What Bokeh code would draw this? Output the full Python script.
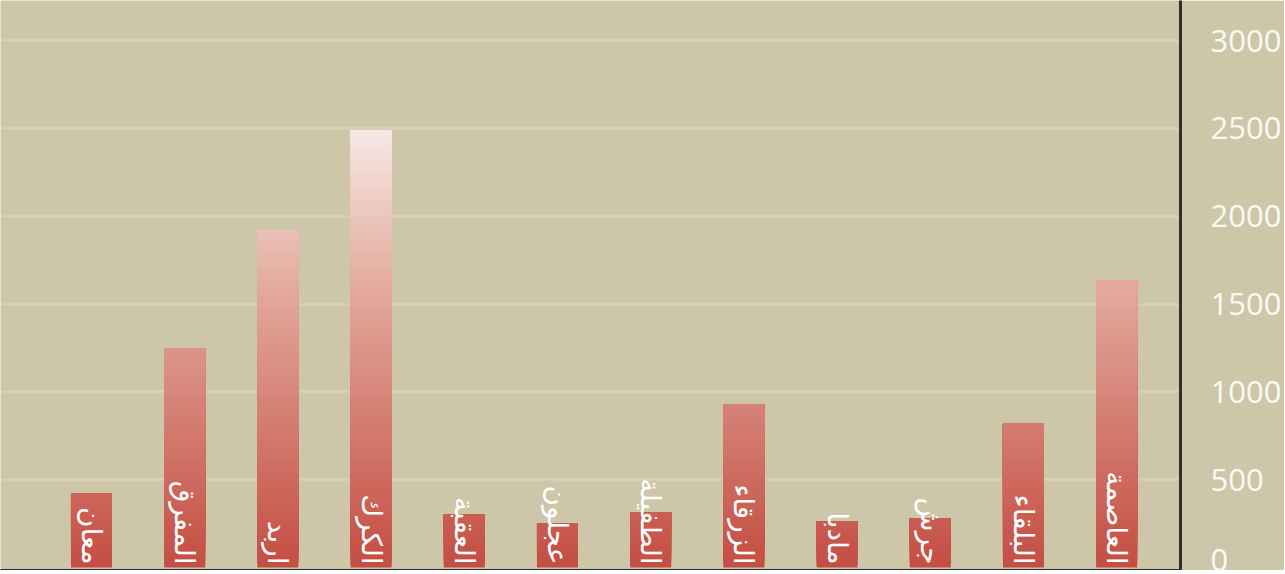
import math
from bokeh.plotting import figure
from bokeh.models import Range1d, FixedTicker
from bokeh.core.properties import value
from bokeh.embed import file_html
from bokeh.resources import INLINE

# ---- data ----
regions = ["معان", "المفرق", "اربد", "الكرك", "العقبة", "عجلون",
           "الطفيلة", "الزرقاء", "مادبا", "جرش", "البلقاء", "العاصمة"]
counts = [420, 1250, 1920, 2490, 300, 250, 313, 928, 262, 279, 820, 1633]
y_ticks = [0, 500, 1000, 1500, 2000, 2500, 3000]

BG = "#CDC6A9"
GRID = "#D7D1B9"

# gradient stops (value -> colour)
stops = [(0, (196, 77, 67)), (1600, (227, 170, 157)), (2500, (247, 233, 229))]


def grad(v):
    for (v0, c0), (v1, c1) in zip(stops[:-1], stops[1:]):
        if v <= v1:
            t = (v - v0) / (v1 - v0)
            return "#%02x%02x%02x" % tuple(int(round(a + (b - a) * t)) for a, b in zip(c0, c1))
    return "#%02x%02x%02x" % stops[-1][1]


p = figure(frame_width=1180, frame_height=570,
           x_range=Range1d(-0.9764, 11.685), y_range=Range1d(-17, 3228),
           output_backend="svg", toolbar_location=None,
           background_fill_color=BG, border_fill_color=BG,
           outline_line_color=None, y_axis_location="right",
           min_border_left=0, min_border_top=0, min_border_bottom=0, min_border_right=0)

# gradient bars as overlapping slices
step = 20
L, R, B, T, C = [], [], [], [], []
bw = 0.44
for i, v in enumerate(counts):
    b = 0
    while b < v:
        L.append(i - bw / 2)
        R.append(i + bw / 2)
        B.append(b)
        T.append(v)
        C.append(grad(b + step / 2))
        b += step
order = sorted(range(len(B)), key=lambda k: B[k])
p.quad(left=[L[k] for k in order], right=[R[k] for k in order],
       bottom=[B[k] for k in order], top=[T[k] for k in order],
       fill_color=[C[k] for k in order], line_color=None)

# labels
p.text(x=list(range(len(regions))), y=[0] * len(regions), text=regions,
       angle=-math.pi / 2, text_align="right", text_baseline="middle",
       text_color="white", text_font=value("DejaVu Sans"), text_font_size="28px",
       y_offset=-3)

# axes
p.xaxis.ticker = FixedTicker(ticks=[])
p.xaxis.axis_line_color = "#2e2e2e"
p.xaxis.axis_line_width = 3
p.xaxis.major_tick_line_color = None
p.xaxis.minor_tick_line_color = None
p.xaxis.major_label_standoff = 0

ya = p.yaxis[0]
ya.ticker = FixedTicker(ticks=y_ticks)
ya.axis_line_color = "#2e2e2e"
ya.axis_line_width = 3
ya.major_tick_line_color = None
ya.minor_tick_line_color = None
ya.major_label_text_color = "#FAFAF5"
ya.major_label_text_font = "Open Sans"
ya.major_label_text_font_size = "31px"
ya.major_label_standoff = 24

p.xgrid.visible = False
p.ygrid.ticker = FixedTicker(ticks=y_ticks[1:])
p.ygrid.grid_line_color = GRID
p.ygrid.grid_line_width = 2.5

html = file_html(p, INLINE)
html = html.replace("<body>", '<body style="background:%s; margin:0">' % BG, 1)
open("out.html", "w").write(html)
